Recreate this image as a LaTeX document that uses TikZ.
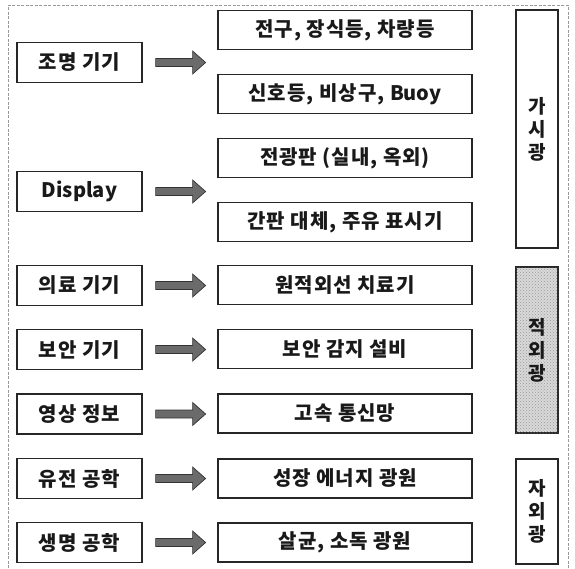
\documentclass[tikz,border=0pt]{standalone}
\usepackage{fontspec}
\setmainfont{Noto Sans CJK KR}[LetterSpace=5]
\newfontfamily\latn{Noto Sans CJK KR}
\usetikzlibrary{patterns}
\newcommand\fatarrow[1]{%
  \filldraw[fatarrow] (#1.east) ++(13,-4) -- ++(37,0) -- ++(0,-7.5) -- ++(13,11.5) -- ++(-13,11.5) -- ++(0,-7.5) -- ++(-37,0) -- cycle;}
\begin{document}
\begin{tikzpicture}[x=1pt,y=-1pt,
  box/.style={draw=black!85, line width=1.2pt, fill=white, inner sep=0pt,
    font=\bfseries\fontsize{20}{22}\selectfont, text=black!90},
  lbox/.style={box, minimum width=125pt, minimum height=40pt},
  rbox/.style={box, minimum width=254pt, minimum height=39pt},
  side/.style={box, minimum width=42pt, align=center,
    font=\bfseries\fontsize{19}{23}\selectfont},
  fatarrow/.style={fill=black!58, draw=black!80, line width=0.7pt, line join=miter},
  frame/.style={draw=gray!80, line width=0.6pt, dash pattern=on 3pt off 1.5pt}]
\useasboundingbox (0,0) rectangle (575,568);
\draw[frame] (8,568) -- (8,5) -- (568,5) -- (568,568);
% left boxes
\node[lbox] (L1) at (79.5,62.5) {조명 기기};
\node[lbox] (L2) at (79.5,191.5) {\latn Display};
\node[lbox] (L3) at (79.5,285.5) {의료 기기};
\node[lbox] (L4) at (79.5,349.5) {보안 기기};
\node[lbox] (L5) at (79.5,414) {영상 정보};
\node[lbox] (L6) at (79.5,478.5) {유전 공학};
\node[lbox] (L7) at (79.5,542.5) {생명 공학};
% right boxes
\node[rbox] (R1) at (345,30) {전구, 장식등, 차량등};
\node[rbox] (R2) at (345,94) {신호등, 비상구, {\latn Buoy}};
\node[rbox] (R3) at (345,158) {전광판 (실내, 옥외)};
\node[rbox] (R4) at (345,222) {간판 대체, 주유 표시기};
\node[rbox] (R5) at (345,285) {원적외선 치료기};
\node[rbox] (R6) at (345,349) {보안 감지 설비};
\node[rbox] (R7) at (345,413.5) {고속 통신망};
\node[rbox] (R8) at (345,478.5) {성장 에너지 광원};
\node[rbox] (R9) at (345,542.5) {살균, 소독 광원};
% arrows
\fatarrow{L1}\fatarrow{L2}\fatarrow{L3}\fatarrow{L4}\fatarrow{L5}\fatarrow{L6}\fatarrow{L7}
% side labels
\node[side, minimum height=238pt] (S1) at (537,129) {가\\시\\광};
\node[side, minimum height=166pt, fill=gray!30,
  postaction={pattern=crosshatch dots, pattern color=gray!80}] (S2) at (537,350) {적\\외\\광};
\node[side, minimum height=105pt] (S3) at (537,511.5) {자\\외\\광};
\end{tikzpicture}
\end{document}
